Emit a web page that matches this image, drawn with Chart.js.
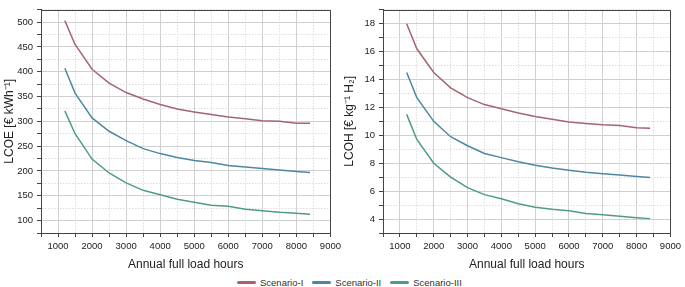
<!DOCTYPE html>
<html>
<head>
<meta charset="utf-8">
<script src="https://cdn.jsdelivr.net/npm/chart.js@4/dist/chart.umd.min.js"></script>
<style>
  html, body { margin: 0; padding: 0; background: #fff; }
  body { width: 685px; height: 287px; position: relative; overflow: hidden; font-family: "Liberation Sans", Arial, sans-serif; }
  canvas { position: absolute; top: 0; }
  #c1 { left: 0; }
  #c2 { left: 342px; }
  #legend { position: absolute; left: 237px; top: 277px; display: flex; align-items: center; font-size: 9.5px; color: #333; white-space: nowrap; }
  .item { display: flex; align-items: center; margin-right: 9px; }
  .swatch { width: 19px; height: 3px; border-radius: 1.5px; margin-right: 4px; }
</style>
</head>
<body>
<canvas id="c1" width="345" height="272"></canvas>
<canvas id="c2" width="343" height="272"></canvas>
<div id="legend"></div>
<script>
// ---- data ----
const hours = [1200, 1500, 2000, 2500, 3000, 3500, 4000, 4500, 5000, 5500, 6000, 6500, 7000, 7500, 8000, 8400];
const seriesNames = ['Scenario-I', 'Scenario-II', 'Scenario-III'];
const lcoeI   = [503, 455, 405, 377, 358, 345, 334, 325, 319, 314, 309, 305, 301, 300, 296, 296];
const lcoeII  = [407, 357, 307, 280, 261, 245, 235, 227, 221, 217, 211, 208, 205, 202, 199, 197];
const lcoeIII = [321, 275, 224, 196, 176, 161, 152, 143, 137, 131, 129, 123, 120, 117, 115, 113];
const lcohI   = [18.0, 16.2, 14.5, 13.4, 12.7, 12.2, 11.9, 11.6, 11.35, 11.15, 10.95, 10.85, 10.75, 10.7, 10.55, 10.5];
const lcohII  = [14.5, 12.7, 11.0, 9.9, 9.25, 8.7, 8.4, 8.1, 7.85, 7.65, 7.5, 7.35, 7.25, 7.15, 7.05, 6.98];
const lcohIII = [11.5, 9.7, 8.0, 7.0, 6.25, 5.75, 5.45, 5.1, 4.85, 4.7, 4.6, 4.4, 4.3, 4.2, 4.1, 4.03];
const xTickLabels = [1000, 2000, 3000, 4000, 5000, 6000, 7000, 8000, 9000];
const lcoeTickLabels = [100, 150, 200, 250, 300, 350, 400, 450, 500];
const lcohTickLabels = [4, 6, 8, 10, 12, 14, 16, 18];

const colors = ['#a5646f', '#4d88a3', '#4f9c86'];
const majorGrid = '#d0d0d0';
const minorGrid = '#dcdcdc';
const axisColor = '#444';
const tickFont = { family: '"Liberation Sans", Arial, sans-serif', size: 9.5 };
const titleFont = { family: '"Liberation Sans", Arial, sans-serif', size: 12 };

const framePlugin = {
  id: 'frame',
  afterDraw(chart) {
    const { ctx, chartArea: a } = chart;
    ctx.save();
    ctx.strokeStyle = axisColor;
    ctx.lineWidth = 1;
    ctx.beginPath();
    ctx.moveTo(Math.round(a.left) + 0.5, Math.round(a.top) + 0.5);
    ctx.lineTo(Math.round(a.right) + 0.5, Math.round(a.top) + 0.5);
    ctx.lineTo(Math.round(a.right) + 0.5, Math.round(a.bottom) + 0.5);
    ctx.stroke();
    ctx.restore();
  }
};

function gridOpts(labels) {
  const isMajor = v => labels.includes(v);
  return {
    grid: {
      color: c => (c.tick && isMajor(c.tick.value)) ? majorGrid : minorGrid,
      lineWidth: 1,
      tickColor: axisColor,
      tickLength: 4,
      tickWidth: 1,
      tickBorderDash: []
    },
    border: {
      display: true, color: axisColor, width: 1,
      dash: c => (c.tick && !isMajor(c.tick.value)) ? [1.5, 1.5] : []
    }
  };
}

function makeChart(id, s1, s2, s3, yMin, yMax, yStep, yLabels, yTitle, yWidth, yTitlePad, padRight) {
  const mk = (arr) => hours.map((h, i) => ({ x: h, y: arr[i] }));
  const xg = gridOpts(xTickLabels);
  const yg = gridOpts(yLabels);
  return new Chart(document.getElementById(id), {
    type: 'line',
    data: {
      datasets: [s1, s2, s3].map((arr, i) => ({
        label: seriesNames[i],
        data: mk(arr),
        borderColor: colors[i],
        backgroundColor: colors[i],
        borderWidth: 1.5,
        pointRadius: 0,
        tension: 0,
        fill: false
      }))
    },
    options: {
      responsive: false,
      animation: false,
      devicePixelRatio: 1,
      layout: { padding: { left: 0, right: padRight, top: 1, bottom: 0 } },
      plugins: { legend: { display: false }, tooltip: { enabled: false } },
      scales: {
        x: {
          type: 'linear', min: 500, max: 9000,
          ticks: {
            stepSize: 500, autoSkip: false, maxRotation: 0, padding: 4,
            color: '#222', font: tickFont,
            callback: v => xTickLabels.includes(v) ? String(v) : ''
          },
          grid: xg.grid, border: xg.border,
          title: { display: true, text: 'Annual full load hours', color: '#222', font: titleFont, padding: { top: 0, bottom: 0 } },
          afterFit: s => { s.height = 39; }
        },
        y: {
          type: 'linear', min: yMin, max: yMax,
          ticks: {
            stepSize: yStep, autoSkip: false, padding: 4,
            color: '#222', font: tickFont,
            callback: v => yLabels.includes(v) ? String(v) : ''
          },
          grid: yg.grid, border: yg.border,
          title: { display: true, text: yTitle, color: '#222', font: titleFont, padding: { top: yTitlePad, bottom: 0 } },
          afterFit: s => { s.width = yWidth; }
        }
      }
    },
    plugins: [framePlugin]
  });
}

makeChart('c1', lcoeI, lcoeII, lcoeIII, 75, 525, 25, lcoeTickLabels, 'LCOE [€ kWh⁻¹]', 41, 2, 13);
makeChart('c2', lcohI, lcohII, lcohIII, 3, 19, 1, lcohTickLabels, 'LCOH [€ kg⁻¹ H₂]', 41, 0, 12);

// legend (HTML, same series names & colours)
const legend = document.getElementById('legend');
seriesNames.forEach((n, i) => {
  const it = document.createElement('div'); it.className = 'item';
  const sw = document.createElement('div'); sw.className = 'swatch'; sw.style.background = colors[i];
  const tx = document.createElement('span'); tx.textContent = n;
  it.appendChild(sw); it.appendChild(tx); legend.appendChild(it);
});
</script>
</body>
</html>
